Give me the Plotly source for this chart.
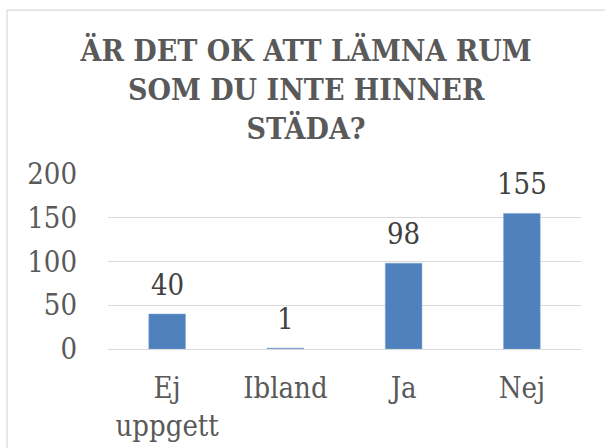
import plotly.graph_objects as go

categories = ["Ej<br>uppgett", "Ibland", "Ja", "Nej"]
values = [40, 1, 98, 155]
y_ticks = [0, 50, 100, 150, 200]
title_text = "ÄR DET OK ATT LÄMNA RUM<br>SOM DU INTE HINNER<br>STÄDA?"

FONT = "DejaVu Serif Condensed"
BLUE = "#4f81bd"

fig = go.Figure()
fig.add_trace(go.Bar(
    x=categories, y=values,
    marker=dict(color=BLUE, line=dict(color="#7ea3d4", width=0.5)),
    width=0.31,
    hoverinfo="skip",
))

for c, v in zip(categories, values):
    fig.add_annotation(x=c, y=v, text=str(v), showarrow=False,
                       yanchor="bottom", yshift=10,
                       font=dict(family=FONT, size=29, color="#404040"))

fig.add_shape(type="rect", xref="paper", yref="paper",
              x0=-0.2135, x1=1.3, y0=-1.5, y1=1.937,
              line=dict(color="#d9d9d9", width=1.2), fillcolor="rgba(0,0,0,0)",
              layer="below")

fig.update_layout(
    width=605, height=448,
    margin=dict(l=108, r=24, t=174, b=99, autoexpand=False),
    paper_bgcolor="white", plot_bgcolor="white",
    showlegend=False,
    font=dict(family=FONT),
    title=dict(text=title_text, xref="container", yref="container",
               x=0.506, xanchor="center", y=1 - 61 / 448, yanchor="top",
               font=dict(family=FONT, size=30, color="#595959", weight="bold")),
    yaxis=dict(range=[0, 200], tickvals=y_ticks, showgrid=True, automargin=False,
               gridcolor="#d9d9d9", gridwidth=1.3, zeroline=True,
               zerolinecolor="#d9d9d9", zerolinewidth=1.3, showline=False,
               ticks="", ticklabelstandoff=30,
               tickfont=dict(family=FONT, size=29, color="#595959")),
    xaxis=dict(showgrid=False, showline=False, ticks="", ticklabelstandoff=19,
               automargin=False,
               tickfont=dict(family=FONT, size=29, color="#595959")),
)

fig.write_html("out.html", config={"displayModeBar": False},
               post_script="document.body.style.margin='0';")
